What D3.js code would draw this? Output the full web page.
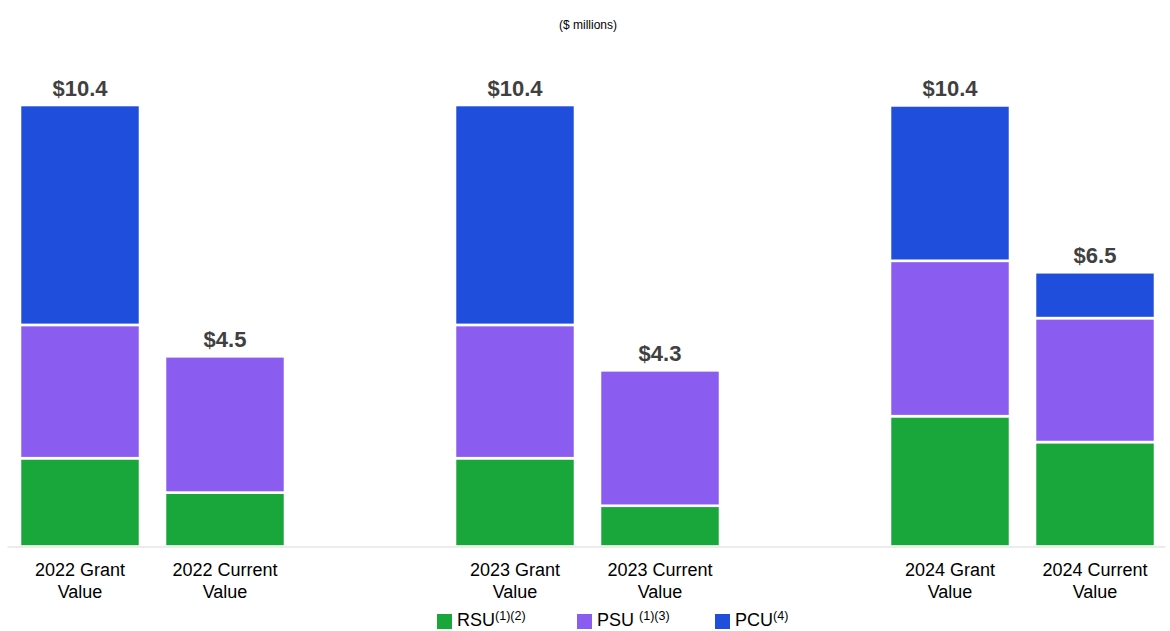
<!DOCTYPE html>
<html>
<head>
<meta charset="UTF-8">
<script src="https://cdn.jsdelivr.net/npm/d3@7"></script>
<style>
  body { margin: 0; background: #fff; font-family: "Liberation Sans", Arial, sans-serif; }
</style>
</head>
<body>
<svg id="chart" width="1170" height="631"></svg>
<script>

  // DATA

  var categories = ["2022 Grant Value", "2022 Current Value", "gap1",
                    "2023 Grant Value", "2023 Current Value", "gap2",
                    "2024 Grant Value", "2024 Current Value"];
  var barCategories = ["2022 Grant Value", "2022 Current Value",
                       "2023 Grant Value", "2023 Current Value",
                       "2024 Grant Value", "2024 Current Value"];
  var rsu = [2.08, 1.27, 2.08, 0.96, 3.07, 2.46];
  var psu = [3.14, 3.21, 3.14, 3.19, 3.66, 2.92];
  var pcu = [5.18, 0, 5.18, 0, 3.66, 1.08];
  var totalLabels = ["$10.4", "$4.5", "$10.4", "$4.3", "$10.4", "$6.5"];
  var seriesNames = ["RSU", "PSU", "PCU"];
  var seriesColors = ["#19a63a", "#8b5cf0", "#1f4ddc"];

  // SETUP

  var svg = d3.select("#chart"),
    plotLeft = 7.5, plotRight = 1167.5, plotTop = 105, plotBottom = 546.5;

  var rows = barCategories.map(function (c, i) {
    return { cat: c, RSU: rsu[i], PSU: psu[i], PCU: pcu[i], label: totalLabels[i] };
  });

  var x = d3.scaleBand().domain(categories).range([plotLeft, plotRight]).paddingInner(0.172).paddingOuter(0.086);
  var y = d3.scaleLinear().domain([0, 10.4]).range([plotBottom, plotTop]);

  var stacked = d3.stack().keys(seriesNames)(rows);

  // title
  svg.append("text")
    .attr("x", 588).attr("y", 29)
    .attr("text-anchor", "middle")
    .style("font-size", "12px")
    .text("($ millions)");

  // BARS

  svg.append("g").selectAll("g")
    .data(stacked)
    .enter().append("g")
    .attr("fill", function (d, i) { return seriesColors[i]; })
    .selectAll("rect")
    .data(function (d) { return d.filter(function (s) { return s[1] - s[0] > 0; }); })
    .enter().append("rect")
    .attr("x", function (d) { return x(d.data.cat); })
    .attr("y", function (d) { return y(d[1]); })
    .attr("width", x.bandwidth())
    .attr("height", function (d) { return y(d[0]) - y(d[1]); })
    .attr("stroke", "#fff")
    .attr("stroke-width", 2.6);

  // axis line
  svg.append("line")
    .attr("x1", plotLeft).attr("x2", plotRight - 2)
    .attr("y1", plotBottom + 0.5).attr("y2", plotBottom + 0.5)
    .attr("stroke", "#d9d9d9").attr("stroke-width", 1);

  // total labels
  svg.append("g").selectAll("text")
    .data(rows)
    .enter().append("text")
    .attr("x", function (d) { return x(d.cat) + x.bandwidth() / 2; })
    .attr("y", function (d) { return y(d.RSU + d.PSU + d.PCU) - 9; })
    .attr("text-anchor", "middle")
    .style("font-size", "22px")
    .style("font-weight", "bold")
    .style("fill", "#404040")
    .text(function (d) { return d.label; });

  // category labels (two lines)
  var catText = svg.append("g").selectAll("text")
    .data(barCategories)
    .enter().append("text")
    .attr("text-anchor", "middle")
    .style("font-size", "18px")
    .style("fill", "#000");

  catText.each(function (c) {
    var parts = c.split(" ");
    var t = d3.select(this), cx = x(c) + x.bandwidth() / 2;
    t.append("tspan").attr("x", cx).attr("y", 576).text(parts[0] + " " + parts[1]);
    t.append("tspan").attr("x", cx).attr("y", 598).text(parts[2]);
  });

  // LEGEND

  var legendItems = [
    { name: "RSU", sup: "(1)(2)", x: 437 },
    { name: "PSU ", sup: "(1)(3)", x: 577 },
    { name: "PCU", sup: "(4)", x: 715 }
  ];

  var legend = svg.append("g").selectAll("g")
    .data(legendItems)
    .enter().append("g")
    .attr("transform", function (d) { return "translate(" + d.x + ",614)"; });

  legend.append("rect")
    .attr("width", 15).attr("height", 15)
    .attr("fill", function (d, i) { return seriesColors[i]; });

  var lt = legend.append("text")
    .attr("x", 20).attr("y", 12)
    .style("font-size", "18px")
    .style("fill", "#000")
    .attr("xml:space", "preserve");

  lt.append("tspan").text(function (d) { return d.name; });
  lt.append("tspan")
    .attr("dy", -6)
    .style("font-size", "12.5px")
    .text(function (d) { return d.sup; });

</script>
</body>
</html>
